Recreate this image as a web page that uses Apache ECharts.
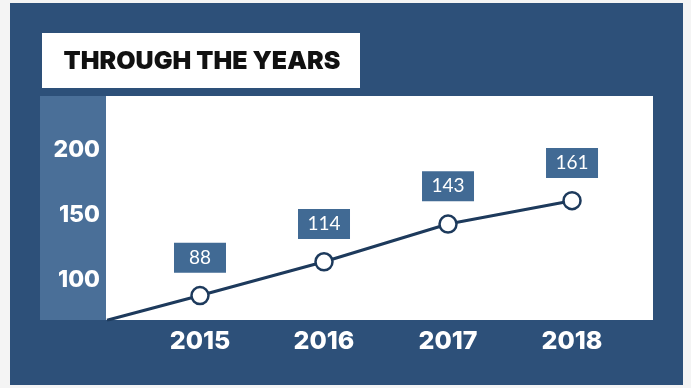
<!DOCTYPE html>
<html>
<head>
<meta charset="utf-8">
<script src="https://cdn.jsdelivr.net/npm/echarts@6/dist/echarts.min.js"></script>
<style>
  html, body { margin: 0; padding: 0; background: #ffffff; }
  #chart { width: 691px; height: 388px; }
</style>
</head>
<body>
<div id="chart"></div>
<script>
// ---- data ----
const titleText = 'THROUGH THE YEARS';
const years = [2015, 2016, 2017, 2018];
const values = [88, 114, 143, 161];
// the line enters from the lower-left corner of the plot
const startPoint = [2014.25, 69];
const yTickLabels = [100, 150, 200];

const seriesData = [startPoint].concat(years.map((y, i) => [y, values[i]]));

const chart = echarts.init(document.getElementById('chart'), null, { renderer: 'canvas' });

const option = {
  backgroundColor: '#f4f4f4',
  animation: false,
  graphic: [
    { type: 'rect', z: -10, shape: { x: 10, y: 3, width: 673, height: 382 },
      style: { fill: '#2d5079' } },
    { type: 'rect', z: -9, shape: { x: 40, y: 96, width: 70, height: 224 },
      style: { fill: '#4a6f98' } },
    { type: 'rect', z: 5, shape: { x: 42, y: 33, width: 318, height: 55 },
      style: { fill: '#ffffff' } },
    { type: 'text', z: 6, x: 202, y: 61,
      style: { text: titleText, fill: '#111111', font: '900 25px Inter, "DejaVu Sans", sans-serif',
        textAlign: 'center', textVerticalAlign: 'middle' } }
  ],
  grid: {
    left: 106, right: 38, top: 96, bottom: 68,
    show: true, backgroundColor: '#ffffff', borderWidth: 0
  },
  xAxis: {
    type: 'value',
    min: 2014.242, max: 2018.653,
    axisLine: { show: false }, axisTick: { show: false }, splitLine: { show: false },
    axisLabel: {
      customValues: years,
      color: '#ffffff', fontSize: 25, fontWeight: 800,
      fontFamily: 'Inter, "DejaVu Sans", sans-serif',
      margin: 9,
      formatter: v => String(v)
    }
  },
  yAxis: {
    type: 'value',
    min: 69.2, max: 241.5,
    axisLine: { show: false }, axisTick: { show: false }, splitLine: { show: false },
    axisLabel: {
      customValues: yTickLabels,
      color: '#ffffff', fontSize: 23, fontWeight: 800,
      fontFamily: 'Inter, "DejaVu Sans", sans-serif',
      margin: 6
    }
  },
  series: [{
    type: 'line',
    data: seriesData,
    clip: true,
    lineStyle: { color: '#1d3a5c', width: 3 },
    symbol: 'circle',
    symbolSize: (val, params) => params.dataIndex === 0 ? 0 : 17,
    showAllSymbol: true,
    itemStyle: { color: '#ffffff', borderColor: '#1d3a5c', borderWidth: 2.5 },
    label: {
      show: true,
      position: 'top',
      distance: 13,
      formatter: p => p.dataIndex === 0 ? '' : String(p.value[1]),
      color: '#ffffff',
      fontSize: 19,
      fontFamily: 'Lato, "Open Sans", sans-serif',
      backgroundColor: '#416a94',
      width: 30,
      align: 'center',
      lineHeight: 20,
      padding: [5, 11]
    }
  }]
};

chart.setOption(option);
</script>
</body>
</html>
